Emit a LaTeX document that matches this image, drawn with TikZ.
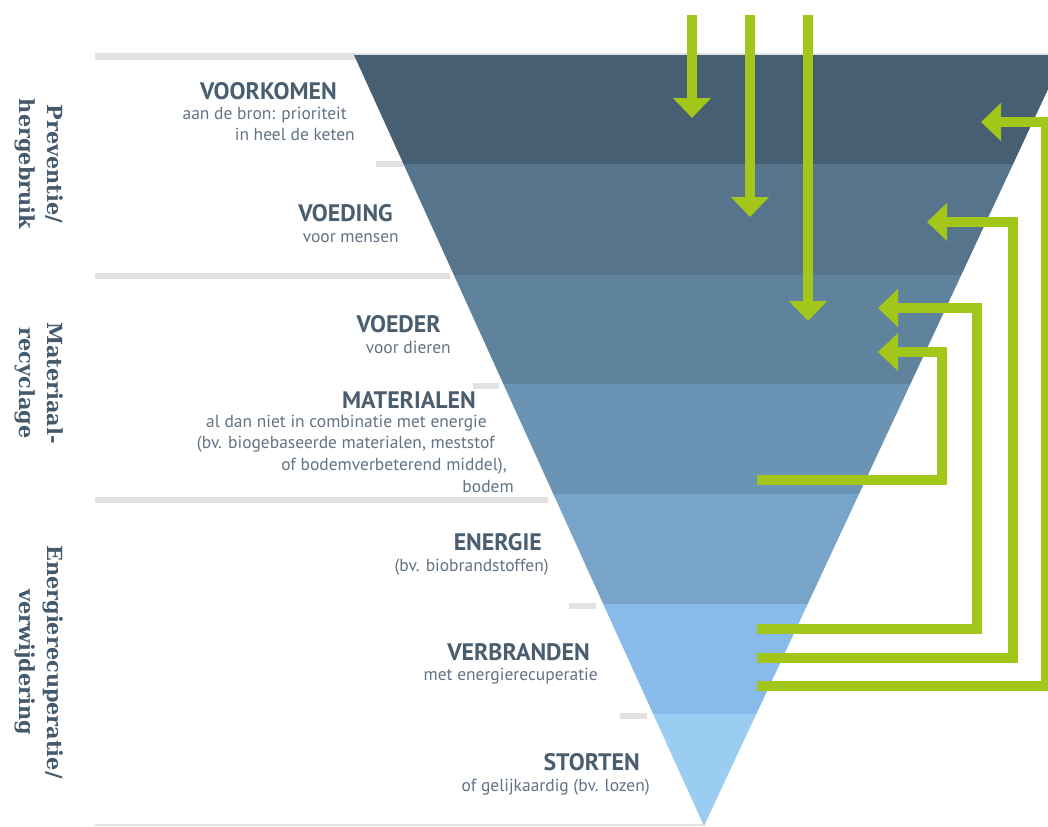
\documentclass[tikz,border=0pt]{standalone}
\usepackage{fontspec}
\setmainfont{PT Sans}
\newfontfamily\slabfont{DejaVu Serif}
\usetikzlibrary{arrows.meta}
\definecolor{bandA}{HTML}{465F72}
\definecolor{bandB}{HTML}{56748B}
\definecolor{bandC}{HTML}{5F829D}
\definecolor{bandD}{HTML}{6B93B4}
\definecolor{bandE}{HTML}{77A4C8}
\definecolor{bandF}{HTML}{88BBE9}
\definecolor{bandG}{HTML}{9BCDF2}
\definecolor{lime}{HTML}{A3C61A}
\definecolor{rulegrey}{HTML}{E2E2E2}
\definecolor{headtxt}{HTML}{4A5E70}
\definecolor{sidetxt}{HTML}{44596B}
\definecolor{subtxt}{HTML}{627384}
\tikzset{
  head/.style={anchor=base east, text=headtxt, font=\fontsize{17.9}{21}\selectfont\bfseries, inner sep=0pt},
  sub/.style={anchor=base east, text=subtxt, font=\fontsize{13.1}{15}\selectfont, inner sep=0pt},
  side/.style={rotate=-90, align=center, text=sidetxt, font=\slabfont\fontsize{15.6}{21}\selectfont\bfseries, inner sep=0pt},
  rule/.style={draw=rulegrey, line width=4.5pt},
  flow/.style={draw=lime, line width=7.5pt, line join=miter, -{Triangle[width=27.75pt,length=15pt]}}
}
\begin{document}
\begin{tikzpicture}[x=0.75pt,y=-0.75pt]
\useasboundingbox (0,0) rectangle (1048,826);
\clip (0,0) rectangle (1048,826);
% grey rules
\draw[draw=rulegrey, line width=1.2pt] (95,54) -- (1048,54);
\draw[rule] (95,56.5) -- (356,56.5);
\draw[rule] (376,164) -- (404,164);
\draw[rule] (95,275.5) -- (450,275.5);
\draw[rule] (473,386) -- (499,386);
\draw[rule] (95,499.5) -- (548,499.5);
\draw[rule] (569,606) -- (596,606);
\draw[rule] (620,716) -- (647,716);
\draw[draw=rulegrey, line width=1.5pt] (95,825) -- (704,825);
% bands of the funnel
\coordinate (apex) at (704,826);
\def\lx#1{354+0.4540*(#1-55)}
\def\rx#1{1064-0.4669*(#1-55)}
\foreach \ya/\yb/\c in {55/164/bandA,164/275/bandB,275/384/bandC,384/494/bandD,494/604/bandE,604/714/bandF}{
  \fill[\c] ({\lx{\ya}},\ya) -- ({\rx{\ya}},\ya) -- ({\rx{\yb}},\yb) -- ({\lx{\yb}},\yb) -- cycle;
}
\fill[bandG] ({\lx{714}},714) -- ({\rx{714}},714) -- (apex) -- cycle;
% green down arrows
\coordinate (d1s) at (692,15); \coordinate (d1e) at (692,118);
\coordinate (d2s) at (750,15); \coordinate (d2e) at (750,217);
\coordinate (d3s) at (808,15); \coordinate (d3e) at (808,321);
\draw[flow] (d1s) -- (d1e);
\draw[flow] (d2s) -- (d2e);
\draw[flow] (d3s) -- (d3e);
% green return arrows
\coordinate (aS) at (757,685.5); \coordinate (aE) at (981,122);
\coordinate (bS) at (757,658); \coordinate (bE) at (927,222);
\coordinate (cS) at (757,629); \coordinate (cE) at (878,308);
\coordinate (dS) at (757,480); \coordinate (dE) at (878,352);
\draw[flow] (aS) -- (1046,685.5) -- (1046,122) -- (aE);
\draw[flow] (bS) -- (1013,658) -- (1013,222) -- (bE);
\draw[flow] (cS) -- (977,629) -- (977,308) -- (cE);
\draw[flow] (dS) -- (942,480) -- (942,352) -- (dE);
% labels
\node[head] (voorkomen) at (337,99) {VOORKOMEN};
\node[sub] (voorkomen1) at (347,119) {aan de bron: prioriteit};
\node[sub] (voorkomen2) at (355,140) {in heel de keten};
\node[head] (voeding) at (393,221) {VOEDING};
\node[sub] (voeding1) at (399,242) {voor mensen};
\node[head] (voeder) at (441,332) {VOEDER};
\node[sub] (voeder1) at (451,353) {voor dieren};
\node[head] (materialen) at (476,408) {MATERIALEN};
\node[sub] (mat1) at (487,427) {al dan niet in combinatie met energie};
\node[sub] (mat2) at (495,448) {(bv. biogebaseerde materialen, meststof};
\node[sub] (mat3) at (507,470) {of bodemverbeterend middel),};
\node[sub] (mat4) at (514,492) {bodem};
\node[head] (energie) at (542,550) {ENERGIE};
\node[sub] (energie1) at (549,571) {(bv. biobrandstoffen)};
\node[head] (verbranden) at (590,660) {VERBRANDEN};
\node[sub] (verbranden1) at (598,680) {met energierecuperatie};
\node[head] (storten) at (640,770) {STORTEN};
\node[sub] (storten1) at (650,791) {of gelijkaardig (bv. lozen)};
% side labels
\node[side] (prev) at (39,164) {Preventie/\\hergebruik};
\node[side] (recy) at (39,383) {Materiaal-\\recyclage};
\node[side] (ener) at (39,662) {Energierecuperatie/\\verwijdering};
\end{tikzpicture}
\end{document}
